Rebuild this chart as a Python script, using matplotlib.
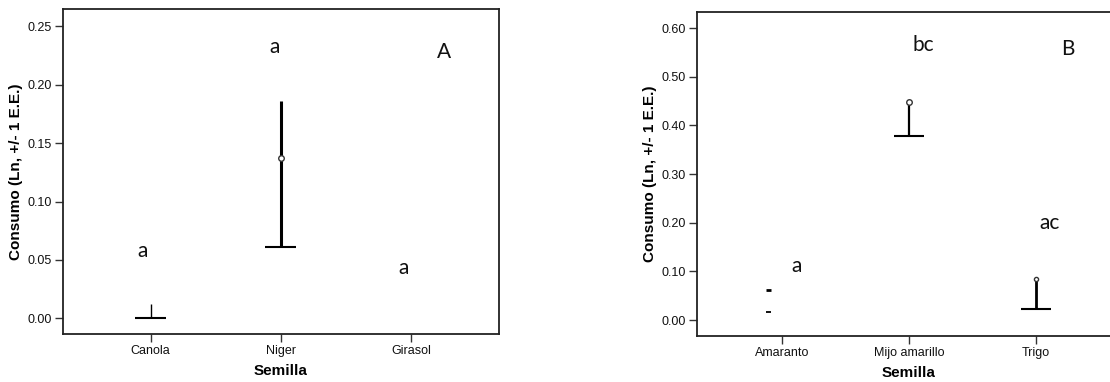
import numpy as np
import matplotlib
matplotlib.use("Agg")
import matplotlib.pyplot as plt

# Panel A: oilseeds
cats_a = ["Canola", "Niger", "Girasol"]
mean_a = [np.nan, 0.137, np.nan]
low_a = [0.000, 0.061, np.nan]
high_a = [0.012, 0.186, np.nan]
letters_a = ["a", "a", "a"]
letter_y_a = [0.058, 0.232, 0.043]
yticks_a = [0.00, 0.05, 0.10, 0.15, 0.20, 0.25]

# Panel B: cereals / grains
cats_b = ["Amaranto", "Mijo amarillo", "Trigo"]
mean_b = [np.nan, 0.449, 0.085]
low_b = [0.016, 0.379, 0.022]
high_b = [0.062, 0.449, 0.085]
letters_b = ["a", "bc", "ac"]
letter_y_b = [0.112, 0.566, 0.199]
yticks_b = [0.00, 0.10, 0.20, 0.30, 0.40, 0.50, 0.60]

W, H = 1110, 382
fig = plt.figure(figsize=(W / 100, H / 100), dpi=100)

tick_font = dict(family="Liberation Sans", size=9, color="#111111")
lab_font = dict(family="Liberation Sans", size=11, weight="bold")
ann_font = dict(family="Lato", size=15, color="#111111")
FRAME = "#222222"


def style_axes(ax, cats, yticks, ylim, xlim):
    ax.set_xlim(*xlim)
    ax.set_ylim(*ylim)
    ax.set_xticks(range(len(cats)))
    ax.set_xticklabels(cats, **tick_font)
    ax.set_yticks(yticks)
    ax.set_yticklabels([f"{v:.2f}" for v in yticks], **tick_font)
    ax.tick_params(length=6, width=1, color="#333333", pad=2)
    for s in ax.spines.values():
        s.set_linewidth(1.3)
        s.set_color(FRAME)
    ax.set_xlabel("Semilla", labelpad=5, **lab_font)
    ax.set_ylabel("Consumo (Ln, +/- 1 E.E.)", labelpad=3, **lab_font)


def draw_bars(ax, lows, highs, means, widths, msizes, cap=0.12):
    for i, (lo, hi, m, lw, ms) in enumerate(zip(lows, highs, means, widths, msizes)):
        if np.isnan(lo):
            continue
        ax.plot([i, i], [lo, hi], color="black", lw=lw, solid_capstyle="butt")
        ax.plot([i - cap, i + cap], [lo, lo], color="black", lw=1.5,
                solid_capstyle="butt")
        if not np.isnan(m):
            ax.plot([i], [m], marker="o", ms=ms, mfc="white", mec="#333333",
                    mew=1.0)


# ---- Panel A
ax1 = fig.add_axes([63 / W, 1 - 334.3 / H, (498.7 - 63) / W, (334.3 - 9.3) / H])
style_axes(ax1, cats_a, yticks_a, (-0.0137, 0.2646), (-0.672, 2.672))
draw_bars(ax1, low_a, high_a, mean_a, widths=[1.0, 2.2, 1.0], msizes=[4, 4, 4])
letter_x_a = [-0.06, -0.05, -0.06]
for i, (t, y) in enumerate(zip(letters_a, letter_y_a)):
    ax1.text(i + letter_x_a[i], y, t, ha="center", va="center", **ann_font)
ax1.text(2.25, 0.228, "A", ha="center", va="center", **ann_font)

# ---- Panel B
ax2 = fig.add_axes([696.7 / W, 1 - 336 / H, (1121 - 696.7) / W, (336 - 11.7) / H])
style_axes(ax2, cats_b, yticks_b, (-0.0329, 0.634), (-0.668, 2.668))
# Amaranto: only the two short limit marks are drawn
ax2.plot([-0.125, -0.08], [high_b[0], high_b[0]], color="black", lw=2.0,
         solid_capstyle="butt")
ax2.plot([-0.125, -0.08], [low_b[0], low_b[0]], color="black", lw=1.3,
         solid_capstyle="butt")
draw_bars(ax2, [np.nan] + low_b[1:], high_b, mean_b, widths=[1.0, 1.6, 2.0],
          msizes=[4, 4, 3])
letter_x_b = [0.12, 0.11, 0.11]
for i, (t, y) in enumerate(zip(letters_b, letter_y_b)):
    ax2.text(i + letter_x_b[i], y, t, ha="center", va="center", **ann_font)
ax2.text(2.25, 0.557, "B", ha="center", va="center", **ann_font)

fig.savefig("out.png", dpi=100)
